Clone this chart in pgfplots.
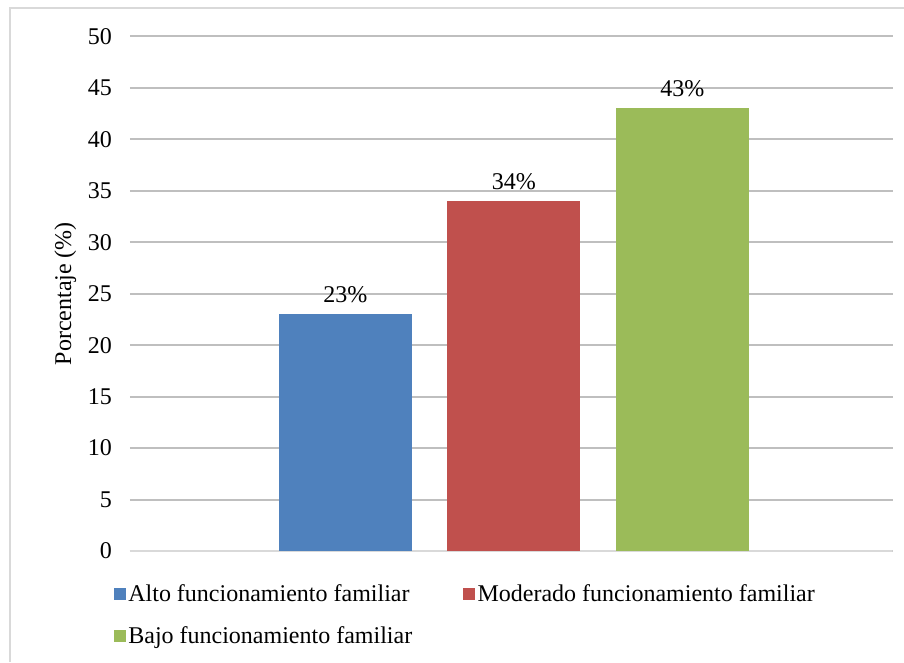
\documentclass[border=0pt]{standalone}
\usepackage{fontspec}
\setmainfont{Liberation Serif}
\usepackage{pgfplots}
\pgfplotsset{compat=1.18}

\definecolor{cblue}{HTML}{4F81BD}
\definecolor{cred}{HTML}{C0504D}
\definecolor{cgreen}{HTML}{9BBB59}
\definecolor{grid}{HTML}{D9D9D9}

\begin{document}
\begin{tikzpicture}
% 1px = 0.75pt; page 904x662 px
\useasboundingbox (0pt,0pt) rectangle (678pt,496.5pt);
% outer frame (left and top sides only visible)
\draw[grid, line width=1.5pt] (7.5pt,0pt) -- (7.5pt,490.5pt) -- (678pt,490.5pt);
\begin{axis}[
  at={(97.5pt,83.25pt)}, anchor=south west,
  scale only axis,
  width=572pt, height=386pt,
  ybar=26.6pt, bar width=99.75pt,
  xmin=-1.0066, xmax=0.9934,
  ymin=0, ymax=50,
  ytick={0,5,...,50},
  xtick=\empty,
  axis line style={draw=none},
  axis x line*=bottom,
  ymajorgrids, grid style={grid, line width=1.5pt},
  major tick length=0pt,
  tick label style={font=\fontsize{18}{21}\selectfont},
  yticklabel style={xshift=-10pt},
  /pgf/number format/assume math mode=true,
  ylabel={Porcentaje (\%)},
  ylabel style={font=\fontsize{18}{21}\selectfont, yshift=2pt},
  nodes near coords={\pgfmathprintnumber{\pgfplotspointmeta}\%},
  nodes near coords style={font=\fontsize{18}{21}\selectfont, yshift=5pt},
  legend style={at={(-0.027,-0.055)}, anchor=north west, draw=none,
    font=\fontsize{18}{21}\selectfont, row sep=13pt,
    /tikz/every even column/.append style={column sep=36pt}},
  legend columns=2, legend cell align=left,
  legend image code/.code={\fill (0pt,-4.5pt) rectangle (9pt,4.5pt);},
  every axis plot/.append style={draw=none},
]
\draw[grid, line width=1.5pt] (rel axis cs:0,0) -- (rel axis cs:1,0);
\addplot[fill=cblue] coordinates {(0,23)};
\addplot[fill=cred] coordinates {(0,34)};
\addplot[fill=cgreen] coordinates {(0,43)};
\legend{Alto funcionamiento familiar, Moderado funcionamiento familiar, Bajo funcionamiento familiar}
\end{axis}
\end{tikzpicture}
\end{document}
